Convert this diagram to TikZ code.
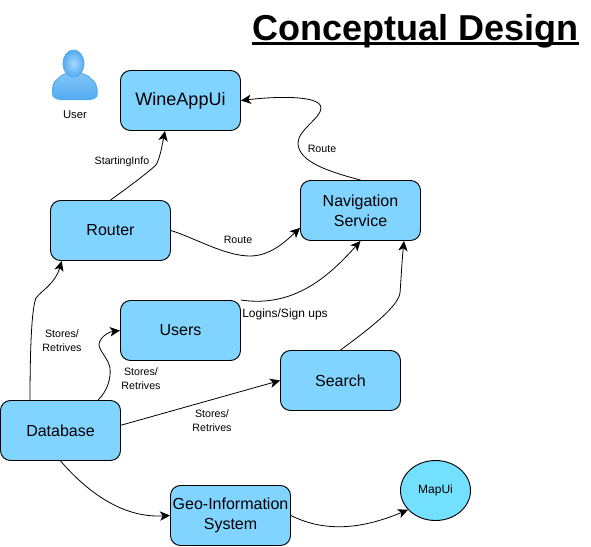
\documentclass[tikz,border=0pt]{standalone}
\usepackage{fontspec}
\setmainfont{Liberation Sans}
\usetikzlibrary{arrows.meta,shapes.geometric}
\definecolor{boxblue}{HTML}{80D4FF}
\definecolor{mapblue}{HTML}{73E0FF}
\definecolor{iconlight}{HTML}{A8D8FF}
\definecolor{iconmid}{HTML}{84C6FA}
\definecolor{icondark}{HTML}{55ABF0}
\tikzstyle{box}=[rectangle, rounded corners=7.5pt, draw, line width=0.7pt, fill=boxblue, minimum width=90pt, minimum height=45pt, inner sep=0pt, align=center, font=\fontsize{12}{15}\selectfont]
\tikzstyle{tag}=[inner sep=0pt, align=center, font=\fontsize{8}{10.5}\selectfont]
\tikzstyle{arrow}=[-{Stealth[length=7.5pt,width=7pt,inset=2pt]},line width=0.6pt]

\begin{document}
\begin{tikzpicture}[x=0.75pt, y=-0.75pt]

\useasboundingbox (0,0) rectangle (591,546);

\node (Title) [inner sep=0pt, anchor=base] at (415.5,40) {\fontsize{27}{30}\selectfont\textbf{Conceptual Design}};
\draw [line width=2pt] ([yshift=-2.8pt]Title.base west) -- ([yshift=-2.8pt]Title.base east);

% user icon
\shade[top color=iconmid, bottom color=icondark, draw=icondark, line width=0.8pt, rounded corners=3pt] (56,99.5) .. controls (52,95) and (52,84) .. (58,79) .. controls (61,76) and (65,74) .. (68,72) -- (79,72) .. controls (83,74) and (88,76) .. (91,79) .. controls (97,84) and (98,95) .. (94,99.5) -- cycle;
\shade[inner color=iconlight, outer color=icondark, draw=icondark, line width=0.6pt] (73.5,63.5) ellipse (10.5 and 13.5);
\node (User) [tag, font=\fontsize{8.5}{10.5}\selectfont] at (75,115) {User};

\node (WineAppUi) [box, font=\fontsize{13.5}{15}\selectfont] at (180.5,100.5) {WineAppUi};
\node (Router) [box] at (110.5,230.5) {Router};
\node (Navigation) [box] at (360.5,210.5) {Navigation\\Service};
\node (Users) [box] at (180.5,330.5) {Users};
\node (Search) [box] at (340.5,380.5) {Search};
\node (Database) [box] at (60.5,430.5) {Database};
\node (Geo) [box] at (230.5,515.5) {Geo-Information\\System};
\node (MapUi) [ellipse, draw, line width=0.7pt, fill=mapblue, minimum width=52.5pt, minimum height=45pt, inner sep=0pt, font=\fontsize{9}{11}\selectfont] at (435.5,490.5) {MapUi};

\draw [arrow] (Router.north) .. controls (130,186) and (146,174) .. (156,165) .. controls (160,158) and (162,146) .. (WineAppUi.243);
\draw [arrow] (Navigation.north) .. controls (330,172) and (298,162) .. (298,143) .. controls (298,130) and (321,118) .. (321,108) .. controls (321,94) and (270,97) .. (WineAppUi.east);
\draw [arrow] (Router.east) .. controls (195,238) and (225,256) .. (250,256) .. controls (270,256) and (285,242) .. (Navigation.196);
\draw [arrow] (Users.north east) .. controls (295,308) and (330,275) .. (Navigation.south);
\draw [arrow] (Search.north) .. controls (362,334) and (398,308) .. (400,293) .. controls (401,280) and (402,260) .. (Navigation.-35);
\draw [arrow] (Database.135) .. controls (30,360) and (31,310) .. (36,298) .. controls (42,290) and (55,284) .. (Router.212);
\draw [arrow] (Database.39) .. controls (108,390) and (111,378) .. (110,368) .. controls (108,358) and (100,352) .. (99,345) .. controls (99,338) and (108,332) .. (Users.west);
\draw [arrow] (Database.5) -- (Search.west);
\draw [arrow] (Database.south) .. controls (90,495) and (125,518) .. (Geo.west);
\draw [arrow] (Geo.east) .. controls (320,530) and (355,532) .. (MapUi.-145);

\node (LblStarting) [tag] at (122,162) {StartingInfo};
\node (LblRouteTop) [tag] at (322,149) {Route};
\node (LblRouteMid) [tag] at (238,240) {Route};
\node (LblLogins) [tag, font=\fontsize{9}{10.5}\selectfont] at (285,314) {Logins/Sign ups};
\node (LblStoresA) [tag] at (62,341) {Stores/\\Retrives};
\node (LblStoresB) [tag] at (141,379) {Stores/\\Retrives};
\node (LblStoresC) [tag] at (212,421) {Stores/\\Retrives};

\end{tikzpicture}
\end{document}
